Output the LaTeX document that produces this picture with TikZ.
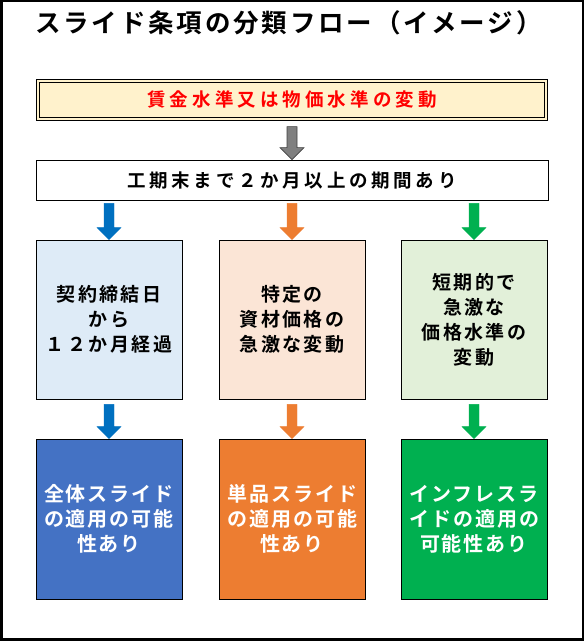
\documentclass[tikz,border=0pt]{standalone}
\usepackage{fontspec}
\newfontfamily\jpfont{Noto Sans CJK JP Bold}
\usetikzlibrary{calc}
\definecolor{paleyellow}{HTML}{FFF2CC}
\definecolor{paleblue}{HTML}{DEEBF7}
\definecolor{paleorange}{HTML}{FBE5D6}
\definecolor{palegreen}{HTML}{E2F0D9}
\definecolor{deepblue}{HTML}{4472C4}
\definecolor{arrowblue}{HTML}{0070C0}
\definecolor{deeporange}{HTML}{ED7D31}
\definecolor{deepgreen}{HTML}{00B050}
\definecolor{arrowgray}{HTML}{7F7F7F}
\tikzset{
  casebox/.style={draw=black, line width=0.8pt, minimum width=146pt, minimum height=159pt,
    inner sep=0pt, align=center},
  midtext/.style={font={\jpfont\addfontfeatures{LetterSpace=13}\fontsize{19}{25}\selectfont}},
  endtext/.style={text=white, font={\jpfont\addfontfeatures{LetterSpace=10}\fontsize{20}{25}\selectfont}},
}
% block arrow from one node down to another
\newcommand{\blockarrow}[4]{%
  \filldraw[#1] let \p1=(#2.south), \p2=(#3.north) in
    (\x2-5pt,\y1-#4) -- (\x2+5pt,\y1-#4) -- (\x2+5pt,\y2+12pt) -- (\x2+12pt,\y2+12pt)
    -- (\x2,\y2) -- (\x2-12pt,\y2+12pt) -- (\x2-5pt,\y2+12pt) -- cycle;
}
\begin{document}
\begin{tikzpicture}[x=1pt,y=1pt]
  \useasboundingbox (0,0) rectangle (584,641);
  %frame
  \draw[line width=2.5pt] (1.25,1.25) rectangle (582.75,639.75);
  %title
  \node (title) at (288.5,618.5)
    {\jpfont\addfontfeatures{LetterSpace=11}\fontsize{25.5}{30}\selectfont スライド条項の分類フロー（イメージ）};
  %top boxes
  \node[draw=black, line width=0.8pt, double=paleyellow, double distance=2pt, fill=paleyellow,
    minimum width=508.4pt, minimum height=38.4pt, inner sep=0pt, text=red,
    font={\jpfont\addfontfeatures{LetterSpace=22}\fontsize{18.5}{22}\selectfont}]
    (change) at (292,541) {賃金水準又は物価水準の変動};
  \node[draw=black, line width=0.8pt, minimum width=512pt, minimum height=40pt, inner sep=0pt,
    font={\jpfont\addfontfeatures{LetterSpace=20}\fontsize{18.5}{22}\selectfont}]
    (period) at (292,461) {工期末まで２か月以上の期間あり};
  %conditions
  \node[casebox, midtext, fill=paleblue] (whole) at (109,321.5) {契約締結日\\から\\１２か月経過};
  \node[casebox, midtext, fill=paleorange] (single) at (292,321.5) {特定の\\資材価格の\\急激な変動};
  \node[casebox, midtext, fill=palegreen] (infl) at (474,321.5) {短期的で\\急激な\\価格水準の\\変動};
  %results
  \node[casebox, endtext, fill=deepblue, minimum height=160pt] (wholeres) at (109,122) {全体スライド\\の適用の可能\\性あり};
  \node[casebox, endtext, fill=deeporange, minimum height=160pt] (singleres) at (292,122) {単品スライド\\の適用の可能\\性あり};
  \node[casebox, endtext, fill=deepgreen, minimum height=160pt] (inflres) at (474,122) {インフレスラ\\イドの適用の\\可能性あり};
  %arrows
  \blockarrow{fill=arrowgray, draw=black!75, line width=0.6pt}{change}{period}{7pt}
  \blockarrow{arrowblue}{period}{whole}{3pt}
  \blockarrow{deeporange}{period}{single}{3pt}
  \blockarrow{deepgreen}{period}{infl}{3pt}
  \blockarrow{arrowblue}{whole}{wholeres}{5pt}
  \blockarrow{deeporange}{single}{singleres}{5pt}
  \blockarrow{deepgreen}{infl}{inflres}{5pt}
\end{tikzpicture}
\end{document}
